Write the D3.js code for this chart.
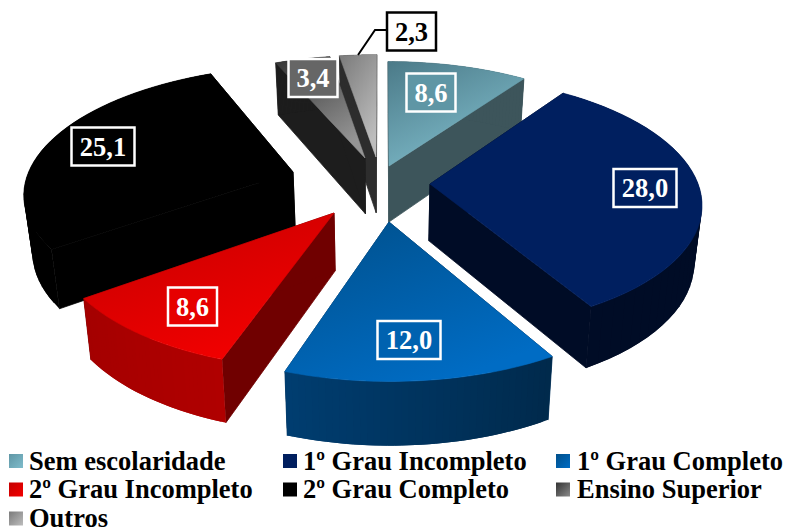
<!DOCTYPE html>
<html>
<head>
<meta charset="utf-8">
<script src="https://cdn.jsdelivr.net/npm/d3@7"></script>
<style>
  html, body { margin: 0; padding: 0; background: #fff; overflow: hidden; }
  text { font-family: "Liberation Serif", serif; font-weight: bold; }
</style>
</head>
<body>
<svg id="chart" width="786" height="527"></svg>
<script>
// Schooling distribution, percent of respondents
const categories = ["Sem escolaridade", "1º Grau Incompleto", "1º Grau Completo", "2º Grau Incompleto", "2º Grau Completo", "Ensino Superior", "Outros"];
const values = [8.6, 28.0, 12.0, 8.6, 25.1, 3.4, 2.3];
const valueLabels = ["8,6", "28,0", "12,0", "8,6", "25,1", "3,4", "2,3"];

// Look of each slice: top gradient, outer wall gradient, radial wall
const topColors = [["#4b7a88", "#7fbccb"], ["#001f5f", "#001f5f"], ["#004f8a", "#006cc4"], ["#c40000", "#f20000"], ["#000000", "#000000"], ["#333333", "#969696"], ["#7a7a7a", "#bdbdbd"]];
const wallColors = [["#3d555b", "#3d555b"], ["#000c26", "#000c26"], ["#002a4c", "#003d70"], ["#b00000", "#a40000"], ["#000000", "#000000"], ["#1d1d1d", "#1d1d1d"], ["#2d2d2d", "#2d2d2d"]];
const radialColors = ["#3d555b", "#000c26", "#00315a", "#700000", "#000000", "#1d1d1d", "#2d2d2d"];
const swatchColors = [["#5f96a5", "#7fbccb"], ["#001f5f", "#001f5f"], ["#004f8a", "#006cc4"], ["#c40000", "#f20000"], ["#000000", "#000000"], ["#333333", "#8a8a8a"], ["#7a7a7a", "#bdbdbd"]];
const boxFills = ["#5f96a5", "#001f5f", "#0062b0", "#e60000", "#000000", "#666666", "#ffffff"];

// Layout: where each wedge tip sits after being pulled out of the pie
const wedgeTips = [[389, 166], [430, 184], [389, 222], [334, 213], [293, 172], [365, 158], [376, 157]];
const labelCentres = [[431, 92.5], [645, 188], [409, 340], [192.5, 306.5], [103, 146.5], [313, 78], [411.5, 31.5]];
const paintOrder = [6, 5, 0, 4, 1, 3, 2];
const legendCols = [[9, 29], [283, 303], [556, 577]];
const legendRows = [469.5, 498, 527];

// Perspective disc: unit-circle coordinates to screen pixels
const cx = 382, cy = 190, fx = 270, fy = 126, k = 0.145;
const scaleAt = Y => 1 / (1 + k * Y);
const project = (X, Y, bottom) => {
  const s = scaleAt(Y);
  if (!bottom) return [cx + fx * X * s, cy - fy * Y * s];
  // lower rim sits a little further from the eye and drops more near the front
  return [cx + fx * X * s * 0.976, cy - fy * Y * s + 24 + 33 * s];
};
const unproject = ([x, y]) => {
  const v = (cy - y) / fy;
  const Y = v / (1 - k * v);
  return [(x - cx) / fx * (1 + k * Y), Y];
};

const pie = d3.pie().sort(null).value(d => d);
const arcs = pie(values);
const svg = d3.select("#chart");
const defs = svg.append("defs");
const line = d3.line();

function gradient(id, colors, x1, y1, x2, y2) {
  const g = defs.append("linearGradient").attr("id", id)
    .attr("x1", x1).attr("y1", y1).attr("x2", x2).attr("y2", y2);
  g.append("stop").attr("offset", "0%").attr("stop-color", colors[0]);
  g.append("stop").attr("offset", "100%").attr("stop-color", colors[1]);
}
values.forEach((_, i) => {
  gradient("top" + i, topColors[i], 0, 0, 0.6, 1);
  gradient("swatch" + i, swatchColors[i], 0, 0, 1, 1);
});

const RIM_STEPS = 40;
paintOrder.forEach(i => {
  const a = arcs[i];
  const tip = unproject(wedgeTips[i]);
  const rim = d3.range(0, RIM_STEPS + 1).map(n => {
    const t = a.startAngle + (a.endAngle - a.startAngle) * n / RIM_STEPS;
    return [tip[0] + Math.sin(t), tip[1] + Math.cos(t)];
  });
  const topRim = rim.map(p => project(p[0], p[1], false));
  const lowRim = rim.map(p => project(p[0], p[1], true));
  const topTip = project(tip[0], tip[1], false);
  const lowTip = project(tip[0], tip[1], true);
  const g = svg.append("g").attr("class", "slice");

  // Radial walls carry a hairline of their own colour so no seam shows between faces
  [[topRim[0], lowRim[0]], [topRim[RIM_STEPS], lowRim[RIM_STEPS]]].forEach(edge => {
    g.append("path")
      .attr("d", line([topTip, edge[0], edge[1], lowTip]) + "Z")
      .attr("fill", radialColors[i]).attr("stroke", radialColors[i]).attr("stroke-width", 0.8);
  });

  // The curved wall is swept in overlapping strips, keeping its side silhouette straight
  const wallColor = d3.interpolateRgb(wallColors[i][0], wallColors[i][1]);
  d3.range(RIM_STEPS).forEach(n => {
    const m = Math.min(n + 2, RIM_STEPS);
    g.append("path")
      .attr("d", line([topRim[n], topRim[m], lowRim[m], lowRim[n]]) + "Z")
      .attr("fill", wallColor(n / (RIM_STEPS - 1)));
  });

  g.append("path")
    .attr("d", line([topTip].concat(topRim)) + "Z")
    .attr("fill", `url(#top${i})`)
    .attr("stroke", `url(#top${i})`).attr("stroke-width", 0.6);
});

// Leader line from the smallest slice to its value box
const leader = d3.path();
const leadStart = project(...(() => {
  const a = arcs[6], tip = unproject(wedgeTips[6]);
  const t = a.startAngle + (a.endAngle - a.startAngle) * 0.5;
  return [tip[0] + Math.sin(t), tip[1] + Math.cos(t)];
})(), false);
leader.moveTo(leadStart[0], leadStart[1]);
leader.lineTo(375, 30);
leader.lineTo(386, 30);
svg.append("path").attr("d", leader.toString()).attr("fill", "none").attr("stroke", "#000").attr("stroke-width", 2);

// Value boxes
valueLabels.forEach((label, i) => {
  const [x, y] = labelCentres[i];
  const w = label.length > 3 ? 63 : 49, h = 38;
  const last = i === 6;
  svg.append("rect")
    .attr("x", x - w / 2).attr("y", y - h / 2).attr("width", w).attr("height", h)
    .attr("fill", boxFills[i])
    .attr("stroke", last ? "#000" : "#fff").attr("stroke-width", 2.5);
  svg.append("text").attr("x", x).attr("y", y + 9).attr("text-anchor", "middle")
    .attr("font-size", 26.5).attr("fill", last ? "#000" : "#fff").text(label);
});

// Legend
categories.forEach((name, i) => {
  const col = legendCols[i % 3], base = legendRows[Math.floor(i / 3)];
  svg.append("rect").attr("x", col[0]).attr("y", base - 15.5).attr("width", 14).attr("height", 14)
    .attr("fill", `url(#swatch${i})`);
  svg.append("text").attr("x", col[1]).attr("y", base).attr("font-size", 26.5).attr("fill", "#000").text(name);
});
</script>
</body>
</html>
